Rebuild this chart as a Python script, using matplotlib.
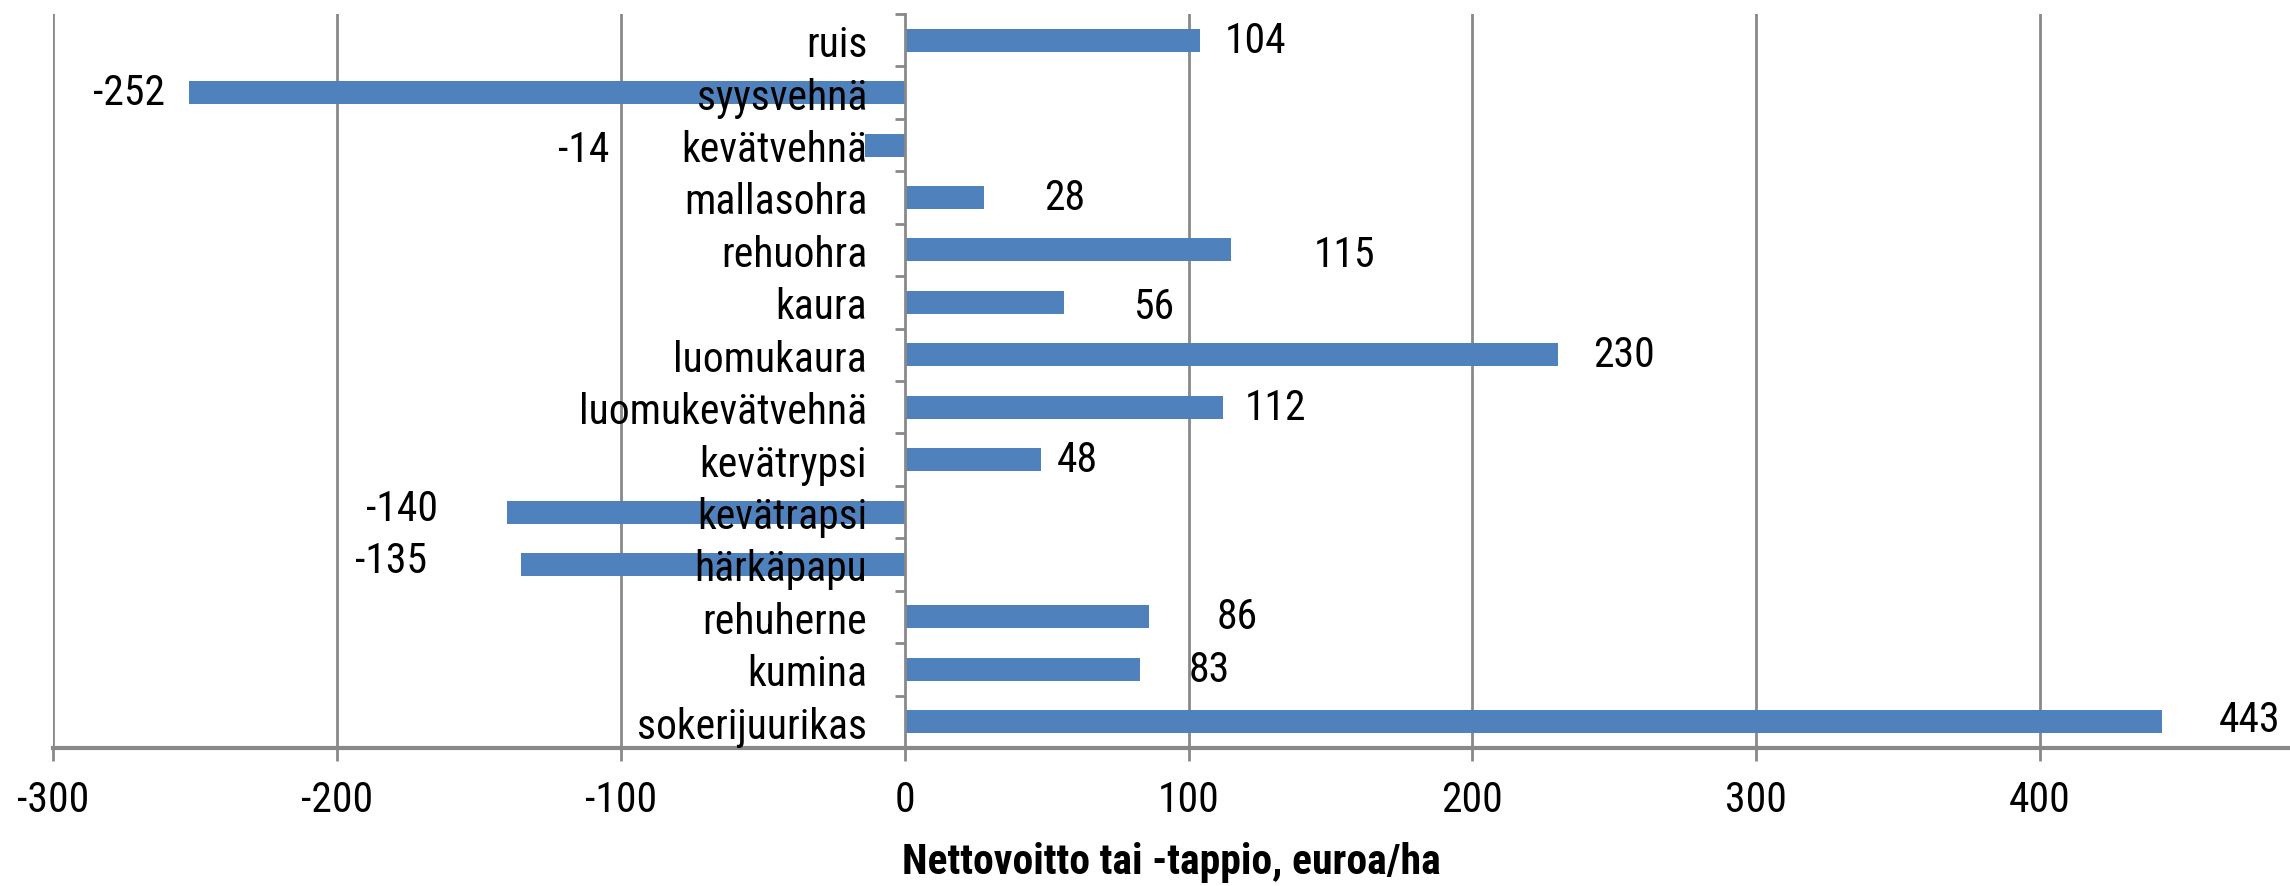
import matplotlib
matplotlib.use("Agg")
import matplotlib.pyplot as plt
from matplotlib import font_manager
import numpy as np

crops = [
    "ruis", "syysvehnä", "kevätvehnä", "mallasohra", "rehuohra", "kaura",
    "luomukaura", "luomukevätvehnä", "kevätrypsi", "kevätrapsi", "härkäpapu",
    "rehuherne", "kumina", "sokerijuurikas",
]
net_profit = [104, -252, -14, 28, 115, 56, 230, 112, 48, -140, -135, 86, 83, 443]
x_ticks = [-300, -200, -100, 0, 100, 200, 300, 400]
x_label = "Nettovoitto tai -tappio, euroa/ha"

# hand-placed data label offsets (pixels from bar end), as in the original
label_dx = [56, -60, -281, 81, 113, 90, 66, 53, 36, -105, -130, 88, 69, 87]
label_dy = [0, 0, 4, 0, 5, 4, 0, 0, 0, -4, -4, 0, 0, -2]

available = {f.name for f in font_manager.fontManager.ttflist}
family = "DejaVu Sans"
for name in ["Liberation Sans Narrow", "Roboto Condensed", "Open Sans Condensed", "Noto Sans"]:
    if name in available:
        family = name
        break
plt.rcParams["font.family"] = [family, "DejaVu Sans"]

W, H, DPI = 2290, 887, 100
fig = plt.figure(figsize=(W / DPI, H / DPI), dpi=DPI)
left, right, top, bottom = 53, 2290, 15, 749
ax = fig.add_axes([left / W, 1 - bottom / H, (right - left) / W, (bottom - top) / H])

grey = "#898989"
blue = "#4f81bd"
fs = 30

y = np.arange(len(crops))
ax.barh(y, net_profit, height=0.44, color=blue, zorder=1)
for xv in x_ticks:
    if xv != 0:
        ax.axvline(xv, color=grey, lw=2.0, zorder=0)

ax.set_xlim(-300, 488)
ax.set_ylim(len(crops) - 0.5, -0.5)
ax.set_axisbelow(False)

for s in ["top", "right"]:
    ax.spines[s].set_visible(False)
ax.spines["left"].set_position(("data", 0))
ax.spines["left"].set_color(grey)
ax.spines["left"].set_linewidth(2.0)
ax.spines["bottom"].set_color(grey)
ax.spines["bottom"].set_linewidth(3.0)

ax.set_xticks(x_ticks)
ax.set_xticklabels([str(v) for v in x_ticks])
ax.tick_params(axis="x", direction="out", length=9, width=2.0, color=grey,
               pad=13, labelsize=fs)
ax.set_yticks(y)
ax.set_yticklabels(crops)
ax.set_yticks(np.arange(-0.5, len(crops), 1.0), minor=True)
ax.tick_params(axis="y", which="major", length=0, pad=27, labelsize=fs)
ax.tick_params(axis="y", which="minor", direction="out", length=7, width=2.0, color=grey)

# axis title sits low, close to the bottom edge
fig.text((left + right) / 2 / W, 13 / H, x_label, fontsize=30, fontweight="bold",
         ha="center", va="baseline")

for i, v in enumerate(net_profit):
    ax.annotate(str(v), xy=(v, i), xytext=(label_dx[i] * 0.72, -label_dy[i] * 0.72),
                textcoords="offset points", ha="center", va="center", fontsize=fs)

fig.savefig("out.png", dpi=DPI)
